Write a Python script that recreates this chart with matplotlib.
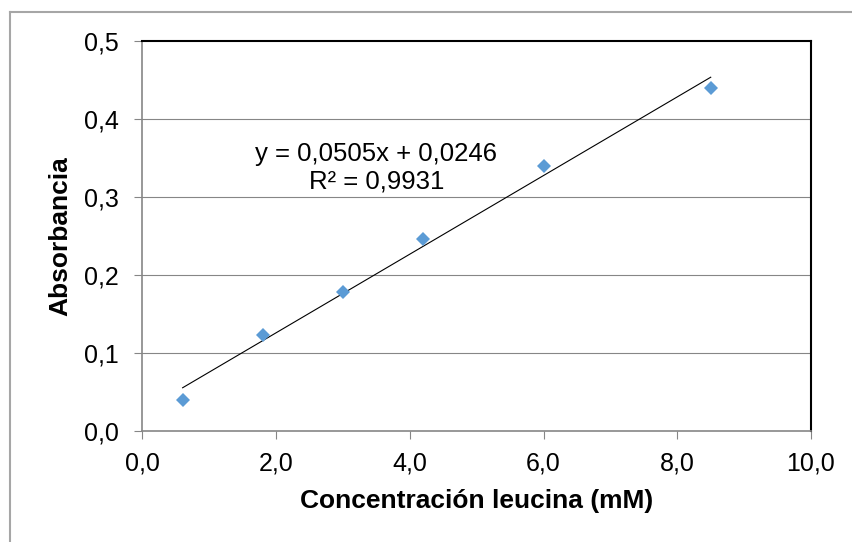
import matplotlib
matplotlib.use("Agg")
import matplotlib.pyplot as plt
from matplotlib.lines import Line2D
import numpy as np

# ---- data ----
concentracion = [0.6, 1.8, 3.0, 4.2, 6.0, 8.5]
absorbancia = [0.039, 0.123, 0.178, 0.246, 0.340, 0.440]
pendiente = 0.0505
intercepto = 0.0246
r2_text = "0,9931"
x_ticks = [0, 2, 4, 6, 8, 10]
x_tick_labels = ["0,0", "2,0", "4,0", "6,0", "8,0", "10,0"]
y_ticks = [0.0, 0.1, 0.2, 0.3, 0.4, 0.5]
y_tick_labels = ["0,0", "0,1", "0,2", "0,3", "0,4", "0,5"]

plt.rcParams['font.family'] = ['Liberation Sans', 'DejaVu Sans']

W, H = 853, 542
fig = plt.figure(figsize=(W / 100, H / 100), dpi=100)
ax = fig.add_axes([142.5 / W, 1 - 430.5 / H, (811 - 142.5) / W, (430.5 - 41.3) / H])

grid_c = '#868686'
ax.set_xlim(0, 10)
ax.set_ylim(0, 0.5)
ax.set_xticks(x_ticks)
ax.set_xticklabels(x_tick_labels)
ax.set_yticks(y_ticks)
ax.set_yticklabels(y_tick_labels)
ax.tick_params(axis='both', direction='out', length=5.8, width=0.8, color=grid_c,
               labelsize=18, labelcolor='black')
ax.tick_params(axis='y', pad=11.5)
ax.tick_params(axis='x', pad=9)

for yv in y_ticks[1:-1]:
    ax.axhline(yv, color=grid_c, lw=0.8, zorder=1)

ax.spines['top'].set_color('black')
ax.spines['right'].set_color('black')
ax.spines['top'].set_linewidth(1.5)
ax.spines['right'].set_linewidth(1.5)
ax.spines['left'].set_color(grid_c)
ax.spines['bottom'].set_color(grid_c)
ax.spines['left'].set_linewidth(1.2)
ax.spines['bottom'].set_linewidth(1.2)

# trendline
xl = np.array([min(concentracion), max(concentracion)])
ax.plot(xl, pendiente * xl + intercepto, color='black', lw=0.8, zorder=2)

ax.plot(concentracion, absorbancia, linestyle='none', marker='D', markersize=7,
        color='#5B9BD5', markeredgewidth=0, zorder=3)

eq = "y = " + f"{pendiente:.4f}".replace('.', ',') + "x + " + f"{intercepto:.4f}".replace('.', ',')
ax.text(3.5, 0.3375, eq + "\nR² = " + r2_text, ha='center', va='center',
        multialignment='center', fontsize=18.5, linespacing=1.2)

ax.set_xlabel("Concentración leucina (mM)", fontsize=19, fontweight='bold', labelpad=10)
ax.set_ylabel("Absorbancia", fontsize=19, fontweight='bold', labelpad=8)

# outer chart border
bc = '#a6a6a6'
fig.add_artist(Line2D([10.5 / W, 1], [1 - 12 / H, 1 - 12 / H], color=bc, lw=1.5,
                      transform=fig.transFigure))
fig.add_artist(Line2D([10.5 / W, 10.5 / W], [0, 1 - 12 / H], color=bc, lw=1.5,
                      transform=fig.transFigure))

fig.savefig("out.png", dpi=100)
